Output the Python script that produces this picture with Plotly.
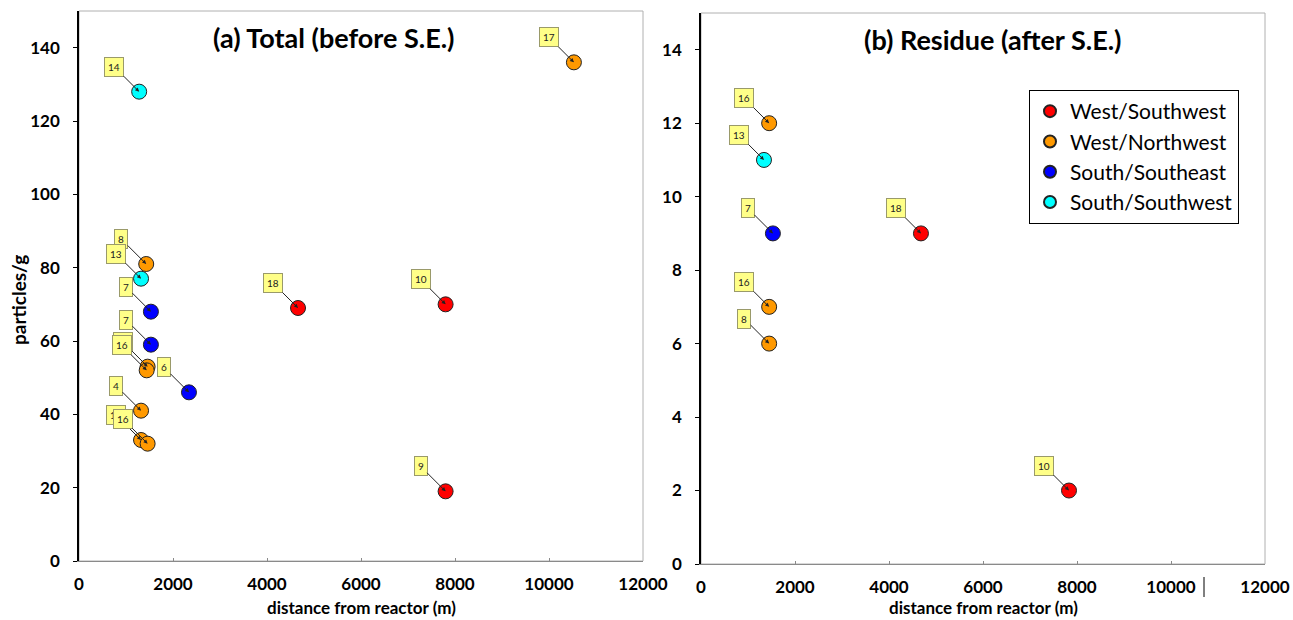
import plotly.graph_objects as go

# ---------------- data ----------------
directions = ["West/Southwest", "West/Northwest", "South/Southeast", "South/Southwest"]
dir_colors = ["#ff0000", "#ff9900", "#0000ff", "#00ffff"]

# (a) Total (before S.E.)
left_x = [1280, 10530, 1430, 1320, 1530, 1530, 1460, 1440, 2340, 1320, 1320, 1460, 4660, 7800, 7800]
left_y = [128, 136, 81, 77, 68, 59, 53, 52, 46, 41, 33, 32, 69, 70, 19]
left_lbl = ["14", "17", "8", "13", "7", "7", "16", "16", "6", "4", "16", "16", "18", "10", "9"]
left_dir = ["South/Southwest", "West/Northwest", "West/Northwest", "South/Southwest",
            "South/Southeast", "South/Southeast", "West/Northwest", "West/Northwest",
            "South/Southeast", "West/Northwest", "West/Northwest", "West/Northwest",
            "West/Southwest", "West/Southwest", "West/Southwest"]

# (b) Residue (after S.E.)
right_x = [1450, 1340, 1530, 4680, 1450, 1450, 7830]
right_y = [12, 11, 9, 9, 7, 6, 2]
right_lbl = ["16", "13", "7", "18", "16", "8", "10"]
right_dir = ["West/Northwest", "South/Southwest", "South/Southeast", "West/Southwest",
             "West/Northwest", "West/Northwest", "West/Southwest"]

x_ticks = [0, 2000, 4000, 6000, 8000, 10000, 12000]
left_yticks = [0, 20, 40, 60, 80, 100, 120, 140]
right_yticks = [0, 2, 4, 6, 8, 10, 12, 14]

panel_titles = ["(a) Total (before S.E.)", "(b) Residue (after S.E.)"]
x_title = "distance from reactor (m)"
y_title = "particles/g"

# ---------------- figure ----------------
W, H = 1293, 620
FONT = "Lato"


def fx(px):
    return px / W


def fy(py):
    return 1 - py / H


fig = go.Figure()


def add_panel(xs, ys, dirs, xa, ya, legend):
    for d, c in zip(directions, dir_colors):
        px = [x for x, dd in zip(xs, dirs) if dd == d]
        py = [y for y, dd in zip(ys, dirs) if dd == d]
        fig.add_trace(go.Scatter(
            x=px, y=py, mode="markers", name=d, xaxis=xa, yaxis=ya,
            legendgroup=d, showlegend=legend,
            marker=dict(size=15, color=c, line=dict(color="#222222", width=1)),
        ))


add_panel(left_x, left_y, left_dir, "x", "y", False)
add_panel(right_x, right_y, right_dir, "x2", "y2", True)

annotations = []


def add_labels(xs, ys, lbls, xr, yr):
    for x, y, t in zip(xs, ys, lbls):
        annotations.append(dict(
            x=x, y=y, xref=xr, yref=yr, text=t, showarrow=True,
            ax=-25, ay=-25, arrowhead=2, arrowsize=0.8, arrowwidth=1,
            arrowcolor="#222222", standoff=0,
            font=dict(family=FONT, size=10, color="#222222"),
            bgcolor="#ffff88", bordercolor="#9a9a6a", borderwidth=1, borderpad=3,
        ))


add_labels(left_x, left_y, left_lbl, "x", "y")
add_labels(right_x, right_y, right_lbl, "x2", "y2")


def text_ann(px, py, txt, size, angle=0):
    annotations.append(dict(x=fx(px), y=fy(py), xref="paper", yref="paper",
                            xanchor="center", yanchor="middle",
                            text="<b>" + txt + "</b>", showarrow=False, textangle=angle,
                            font=dict(family=FONT, size=size, color="black")))


text_ann(334, 37, panel_titles[0], 27)
text_ann(993, 40, panel_titles[1], 27)
text_ann(361, 607, x_title, 17)
text_ann(983, 607, x_title, 17)
text_ann(18, 300, y_title, 19, -90)

tickfont = dict(family=FONT, size=17, color="black", weight="bold")

xcommon = dict(range=[0, 12000], tickvals=x_ticks, ticktext=[str(v) for v in x_ticks],
               showgrid=False, zeroline=False, showline=True, linecolor="#8a8a8a",
               linewidth=1, ticks="inside", ticklen=3, tickcolor="#8a8a8a",
               tickfont=tickfont, ticklabelstandoff=8, automargin=False, fixedrange=True)
ycommon = dict(showgrid=False, zeroline=False, showline=True, linecolor="black",
               linewidth=1.5, ticks="outside", ticklen=4, tickcolor="black",
               tickfont=tickfont, ticklabelstandoff=10, automargin=False, fixedrange=True)

fig.update_layout(
    width=W, height=H,
    margin=dict(l=0, r=0, t=0, b=0),
    paper_bgcolor="white", plot_bgcolor="white",
    font=dict(family=FONT, color="black"),
    xaxis=dict(domain=[fx(79), fx(643)], anchor="y", **xcommon),
    yaxis=dict(domain=[fy(561), fy(11)], anchor="x", range=[0, 150],
               tickvals=left_yticks, **ycommon),
    xaxis2=dict(domain=[fx(701), fx(1265)], anchor="y2", **xcommon),
    yaxis2=dict(domain=[fy(564), fy(13)], anchor="x2", range=[0, 15],
                tickvals=right_yticks, **ycommon),
    legend=dict(x=fx(1029), y=fy(90), xanchor="left", yanchor="top",
                bordercolor="black", borderwidth=1, bgcolor="white",
                font=dict(family=FONT, size=21, color="black"),
                itemsizing="constant", traceorder="normal"),
    annotations=annotations,
    shapes=[
        dict(type="rect", xref="x domain", yref="y domain", x0=0, x1=1, y0=0, y1=1,
             line=dict(color="#b0b0b0", width=1), layer="below"),
        dict(type="rect", xref="x2 domain", yref="y2 domain", x0=0, x1=1, y0=0, y1=1,
             line=dict(color="#b0b0b0", width=1), layer="below"),
        dict(type="line", xref="paper", yref="paper", x0=fx(1204), x1=fx(1204),
             y0=fy(597), y1=fy(577), line=dict(color="black", width=1)),
    ],
)

fig.write_html(
    "out.html",
    config={"displayModeBar": False},
    post_script="document.body.style.margin='0';document.body.style.overflow='hidden';",
)
